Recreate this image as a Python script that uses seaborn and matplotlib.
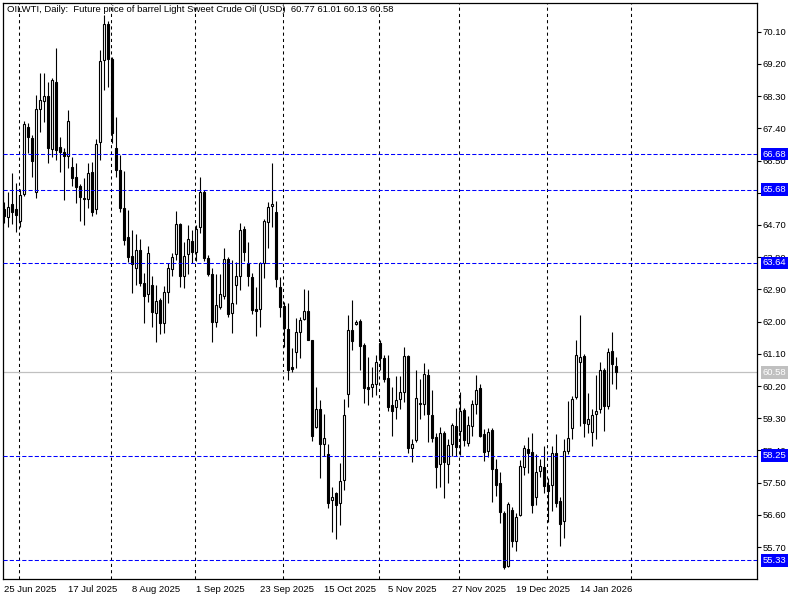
import numpy as np
import pandas as pd
import matplotlib
matplotlib.use("Agg")
import matplotlib.pyplot as plt
import matplotlib.transforms as mtransforms
import seaborn as sns

sns.set_style("white")
plt.rcParams['font.family'] = ['Liberation Sans', 'DejaVu Sans']

# daily bars OILWTI (25 Jun 2025 .. 27 Jan 2026)
opens = [65.15, 64.93, 65.28, 65.14, 64.82, 65.56, 67.45, 67.12, 65.63, 67.94,
         68.17, 68.30, 66.83, 68.70, 66.89, 66.73, 66.63, 66.33, 66.05, 65.79,
         65.46, 65.42, 66.17, 65.14, 67.03, 69.31, 70.31, 69.33, 66.86, 66.24,
         65.17, 64.35, 63.83, 63.49, 64.00, 63.07, 62.77, 63.02, 62.23, 62.60,
         61.95, 62.83, 63.46, 63.88, 64.74, 63.28, 63.88, 64.25, 63.95, 64.63,
         65.61, 63.79, 63.33, 62.00, 62.41, 62.72, 63.75, 62.25, 63.02, 63.28,
         64.60, 63.63, 63.24, 62.34, 62.34, 63.63, 64.79, 65.23, 65.05, 62.97,
         62.44, 61.78, 60.72, 61.16, 61.72, 62.06, 62.30, 61.48, 59.06, 59.57,
         58.57, 58.31, 57.01, 57.20, 56.92, 57.57, 59.97, 61.77, 61.93, 62.02,
         61.34, 60.16, 60.16, 60.26, 61.41, 60.97, 60.43, 59.67, 59.62, 59.84,
         60.02, 61.04, 58.46, 58.69, 59.70, 59.69, 60.51, 59.39, 58.78, 58.01,
         58.88, 58.03, 58.57, 59.08, 58.95, 59.53, 58.62, 59.08, 59.69, 60.15,
         58.86, 58.38, 58.97, 57.87, 57.48, 56.64, 55.18, 56.73, 55.87, 56.61,
         57.94, 58.43, 58.35, 57.09, 57.82, 57.93, 57.43, 57.43, 58.32, 56.98,
         56.42, 58.38, 59.02, 59.90, 60.88, 61.04, 59.15, 58.92, 59.43, 59.57,
         60.66, 59.65, 61.18, 60.77]
highs = [65.35, 65.63, 66.14, 65.86, 65.70, 67.60, 67.55, 67.20, 68.33, 68.94,
         68.94, 68.70, 68.80, 69.64, 67.17, 66.84, 67.90, 66.60, 66.42, 65.85,
         66.00, 66.42, 66.45, 67.10, 69.59, 70.57, 70.40, 69.40, 67.72, 66.65,
         66.20, 65.12, 64.56, 64.44, 64.30, 63.35, 64.11, 63.27, 63.02, 62.65,
         62.99, 63.63, 63.91, 65.09, 64.76, 64.21, 64.70, 64.56, 64.70, 66.03,
         65.68, 63.85, 63.49, 63.33, 63.33, 64.07, 63.80, 63.72, 63.67, 64.76,
         64.66, 64.23, 63.35, 62.98, 63.66, 64.86, 65.35, 66.42, 65.38, 63.24,
         62.55, 62.51, 61.26, 62.09, 62.14, 62.90, 62.88, 61.50, 60.16, 59.81,
         59.42, 58.59, 57.38, 57.25, 58.04, 59.83, 62.18, 62.60, 62.05, 62.06,
         61.40, 61.00, 60.74, 61.07, 61.50, 61.07, 61.07, 60.18, 60.48, 60.48,
         61.28, 61.07, 58.71, 60.64, 60.41, 60.83, 60.67, 60.09, 58.90, 59.06,
         58.94, 58.71, 59.18, 59.60, 60.02, 59.60, 59.36, 59.81, 60.51, 60.27,
         58.99, 59.02, 59.04, 58.17, 57.79, 56.70, 56.97, 56.82, 56.66, 58.13,
         58.55, 58.77, 58.88, 58.31, 58.15, 58.53, 57.64, 58.52, 58.85, 57.10,
         58.71, 59.78, 59.92, 61.48, 62.18, 61.10, 60.01, 59.57, 60.51, 60.88,
         60.70, 61.25, 61.70, 61.01]
lows = [64.75, 64.65, 64.74, 64.51, 64.65, 65.50, 66.70, 66.05, 65.44, 67.31,
        67.58, 66.44, 66.60, 66.51, 66.19, 65.40, 66.30, 65.80, 65.31, 64.82,
        64.70, 65.18, 64.96, 65.00, 66.51, 68.47, 68.56, 67.00, 66.05, 65.07,
        64.15, 63.67, 62.79, 63.02, 63.00, 61.95, 62.55, 61.86, 61.44, 61.64,
        61.67, 62.51, 63.27, 63.72, 62.97, 62.95, 63.33, 63.63, 63.70, 64.48,
        63.70, 63.28, 61.44, 61.84, 62.34, 62.62, 62.13, 61.67, 62.49, 62.88,
        63.70, 62.99, 62.21, 61.60, 61.84, 63.23, 64.06, 64.65, 62.98, 62.14,
        61.30, 60.37, 60.59, 60.71, 60.97, 62.04, 61.48, 58.67, 59.02, 57.64,
        58.25, 56.78, 56.12, 55.94, 56.31, 57.29, 59.62, 61.20, 61.90, 60.64,
        59.73, 59.67, 59.90, 59.95, 60.64, 60.32, 59.51, 58.81, 59.29, 59.57,
        59.76, 58.32, 58.08, 58.64, 59.29, 59.39, 58.64, 58.64, 57.36, 57.38,
        57.07, 57.50, 58.25, 58.25, 58.27, 58.53, 58.53, 58.80, 59.41, 58.78,
        58.10, 58.23, 56.96, 57.12, 56.38, 55.08, 55.15, 55.69, 55.60, 56.56,
        57.71, 57.76, 56.64, 56.89, 57.66, 57.20, 56.41, 56.71, 56.82, 55.73,
        55.96, 58.30, 58.71, 59.85, 59.08, 58.78, 58.88, 58.53, 58.71, 59.45,
        58.94, 59.55, 60.25, 60.13]
closes = [64.95, 65.21, 65.05, 64.98, 65.54, 67.51, 67.17, 66.49, 67.93, 68.19,
          68.30, 66.86, 68.75, 66.79, 66.75, 66.63, 67.60, 66.02, 65.77, 65.47,
          65.43, 66.14, 65.07, 66.95, 69.28, 70.32, 69.33, 67.26, 66.24, 65.17,
          64.28, 63.81, 63.60, 64.00, 63.07, 62.72, 63.91, 62.28, 62.57, 61.97,
          62.83, 63.49, 63.81, 64.74, 63.28, 63.84, 64.30, 63.95, 64.60, 65.61,
          63.77, 63.32, 62.00, 62.46, 62.77, 63.74, 62.21, 62.51, 63.27, 64.56,
          63.95, 63.27, 62.32, 62.30, 63.63, 64.82, 65.21, 65.28, 63.18, 62.41,
          61.81, 60.64, 60.67, 61.70, 62.04, 62.29, 61.50, 58.81, 59.55, 58.57,
          58.74, 56.92, 57.10, 56.89, 57.55, 59.38, 61.77, 61.47, 62.00, 61.32,
          60.14, 60.12, 60.25, 60.88, 60.99, 60.41, 59.62, 59.51, 59.81, 60.04,
          61.04, 58.46, 58.57, 59.88, 59.74, 60.55, 59.41, 58.74, 57.93, 58.88,
          58.08, 58.54, 59.11, 58.50, 59.50, 58.69, 59.11, 59.69, 60.09, 58.81,
          58.35, 58.92, 57.88, 57.43, 56.67, 55.15, 56.90, 55.87, 56.53, 57.96,
          58.46, 58.33, 56.89, 57.80, 57.96, 57.41, 57.27, 58.32, 56.94, 56.36,
          58.39, 58.76, 59.83, 61.08, 61.02, 59.16, 59.29, 59.40, 59.50, 60.66,
          59.64, 61.14, 60.81, 60.58]

first_day = "2025-06-25"
no_trading_days = ["2025-12-25", "2026-01-01"]
extra_trading_days = ["2025-10-26"]   # short Sunday session in the feed
level_lines = [66.68, 65.68, 63.64, 58.25, 55.33]
last_price = 60.58
price_ticks = [70.10, 69.20, 68.30, 67.40, 66.50, 65.60, 64.70, 63.80, 62.90,
               62.00, 61.10, 60.20, 59.30, 58.40, 57.50, 56.60, 55.70]
title = "OILWTI, Daily:  Future price of barrel Light Sweet Crude Oil (USD)  60.77 61.01 60.13 60.58"

df = pd.DataFrame({"open": opens, "high": highs, "low": lows, "close": closes})
df["bar"] = np.arange(len(df))
df["up"] = df["close"] >= df["open"]

# trading calendar of the feed, extended a little into the future
cal = pd.bdate_range(first_day, "2026-02-12")
cal = cal[~cal.isin(pd.to_datetime(no_trading_days))]
cal = cal.union(pd.to_datetime(extra_trading_days))

fig = plt.figure(figsize=(8, 6), dpi=100)
ax = fig.add_axes([2.5 / 800, 21 / 600, 754.5 / 800, 576 / 600])
ax.set_xlim(-0.375, 188.25)
ax.set_ylim(54.81, 70.90)

# month separators
month_start = [i for i in range(1, len(cal)) if cal[i].month != cal[i - 1].month]
for i in month_start:
    ax.axvline(i - 0.35, color="black", lw=0.75, dashes=(3, 3), zorder=1)

# levels
for lv in level_lines:
    ax.axhline(lv, color="#0000ff", lw=0.75, dashes=(4, 2), zorder=4)
ax.axhline(last_price, color="#c0c0c0", lw=0.9, zorder=1)

# candles
ax.vlines(df["bar"], df["low"], df["high"], color="black", lw=0.8, zorder=2)
body_low = df[["open", "close"]].min(axis=1)
body_h = (df["close"] - df["open"]).abs()
ax.bar(df["bar"], body_h, bottom=body_low, width=0.5,
       color=np.where(df["up"], "white", "black"), edgecolor="black",
       linewidth=0.8, zorder=3)

# axes cosmetics
for s in ax.spines.values():
    s.set_color("black")
    s.set_linewidth(0.9)
ax.yaxis.tick_right()
ax.set_yticks(price_ticks)
ax.set_yticklabels([f"{v:.2f}" for v in price_ticks])
ax.tick_params(axis="y", direction="out", length=3, width=0.8, pad=1,
               labelsize=6.8, colors="black")

label_bars = list(range(0, len(df), 16))
ax.set_xticks([b - 0.35 for b in label_bars])
ax.set_xticklabels([f"{cal[b].day} {cal[b]:%b %Y}" for b in label_bars],
                   ha="left")
ax.tick_params(axis="x", direction="out", length=3, width=0.8, pad=1.5,
               labelsize=6.8, colors="black")
offset = mtransforms.ScaledTranslation(1 / 100, 0, fig.dpi_scale_trans)
for lab in ax.get_xticklabels():
    lab.set_transform(lab.get_transform() + offset)
ax.grid(False)

# price boxes on the right scale
trans = mtransforms.blended_transform_factory(ax.transAxes, ax.transData)
for lv in level_lines:
    ax.text(1.0075, lv, f"{lv:.2f}", transform=trans, va="center", ha="left",
            color="white", fontsize=6.8, clip_on=False, zorder=6,
            bbox=dict(boxstyle="square,pad=0.2", fc="#0000ff", ec="none"))
ax.text(1.0075, last_price, f"{last_price:.2f}", transform=trans, va="center",
        ha="left", color="white", fontsize=6.8, clip_on=False, zorder=6,
        bbox=dict(boxstyle="square,pad=0.2", fc="#c0c0c0", ec="none"))

ax.text(0.0056, 0.988, title, transform=ax.transAxes, va="center", ha="left",
        fontsize=6.8, color="black", zorder=6)

fig.savefig("out.png", dpi=100, facecolor="white")
